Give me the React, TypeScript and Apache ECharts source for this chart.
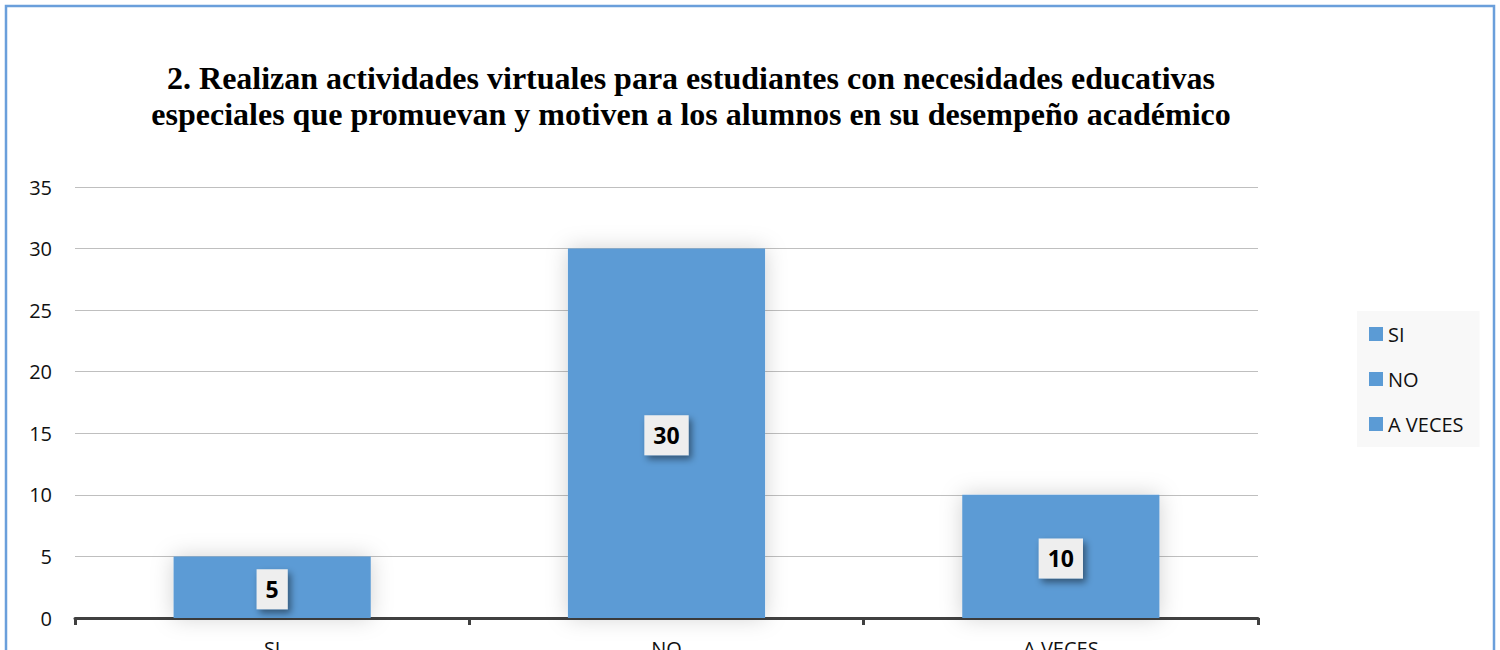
import React, { useEffect, useRef } from "react";
import * as echarts from "echarts";

const categories = ["SI", "NO", "A VECES"];
const values = [5, 30, 10];
const yTicks = { min: 0, max: 35, interval: 5 };
const titleLines = [
  "2. Realizan actividades virtuales para estudiantes con necesidades educativas",
  "especiales que promuevan y motiven a los alumnos en su desempeño académico",
];

const BLUE = "#5b9bd5";
const SANS = "'Open Sans', 'Noto Sans', sans-serif";

export default function App() {
  const ref = useRef<HTMLDivElement>(null);
  useEffect(() => {
    if (!ref.current) return;
    const chart = echarts.init(ref.current, undefined, { renderer: "svg" });
    const series = categories.map((name, i) => ({
      name,
      type: "bar",
      barWidth: "50%",
      barGap: "-100%",
      data: categories.map((_, j) => (j === i ? values[i] : "-")),
      itemStyle: {
        color: BLUE,
        shadowBlur: 22,
        shadowColor: "rgba(0,0,0,0.18)",
      },
      label: {
        show: true,
        position: "inside",
        color: "#000",
        fontFamily: SANS,
        fontWeight: "bold",
        fontSize: 23,
        lineHeight: 24,
        backgroundColor: "#eeeeee",
        padding: [8, 9],
        offset: [0, 2],
        shadowColor: "rgba(0,0,0,0.45)",
        shadowBlur: 7,
        shadowOffsetX: 3,
        shadowOffsetY: 4,
      },
    }));
    chart.setOption({
      animation: false,
      title: {
        text: titleLines.join("\n"),
        left: 686,
        top: 55,
        textAlign: "center",
        textStyle: {
          fontFamily: "'Liberation Serif', 'Times New Roman', serif",
          fontWeight: "bold",
          fontSize: 32,
          lineHeight: 36,
          color: "#000",
        },
      },
      legend: {
        orient: "vertical",
        left: 1357,
        top: 311,
        width: 123,
        backgroundColor: "#f8f8f8",
        padding: [13, 16, 13, 12],
        itemWidth: 14,
        itemHeight: 14,
        itemGap: 25,
        icon: "rect",
        data: categories,
        textStyle: { fontFamily: SANS, fontSize: 20, color: "#111" },
      },
      grid: { left: 75, right: 242, top: 187, bottom: 32, outerBoundsMode: "none", containLabel: false },
      xAxis: {
        type: "category",
        data: categories,
        axisLine: { lineStyle: { color: "#404040", width: 3 } },
        axisTick: { show: true, length: 7, lineStyle: { color: "#404040", width: 3 } },
        axisLabel: { fontFamily: SANS, fontSize: 20, color: "#111", margin: 20 },
      },
      yAxis: {
        type: "value",
        min: yTicks.min,
        max: yTicks.max,
        interval: yTicks.interval,
        axisLine: { show: false },
        axisTick: { show: false },
        axisLabel: { fontFamily: SANS, fontSize: 20, color: "#111", margin: 23 },
        splitLine: { lineStyle: { color: "#bfbfbf", width: 1 } },
      },
      graphic: [
        {
          type: "rect",
          shape: { x: 6, y: 6, width: 1488, height: 700 },
          style: { fill: "none", stroke: "#6a9fdb", lineWidth: 2.5 },
          silent: true,
        },
      ],
      series,
    });
    return () => chart.dispose();
  }, []);
  return (
    <div
      ref={ref}
      style={{ position: "fixed", left: 0, top: 0, width: 1500, height: 650, background: "#fff" }}
    />
  );
}
